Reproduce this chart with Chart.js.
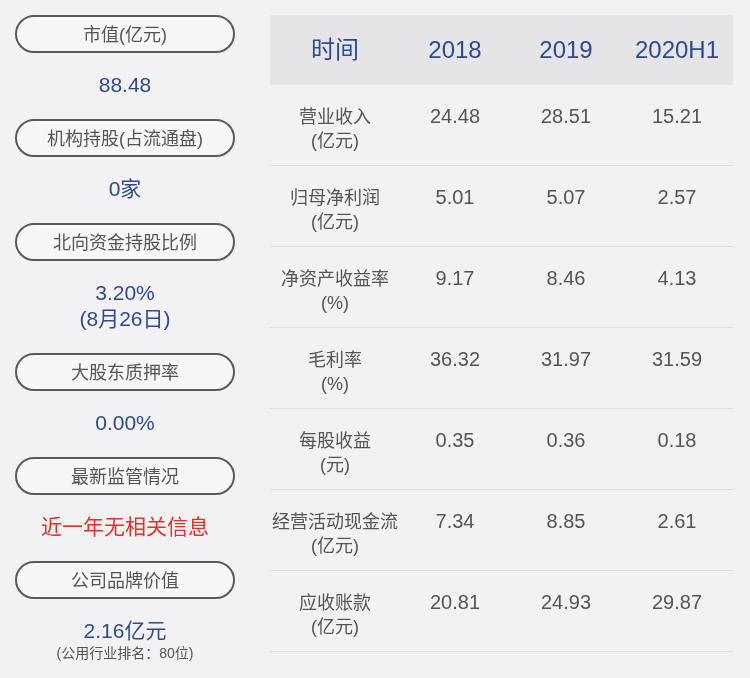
<!DOCTYPE html>
<html><head><meta charset="utf-8">
<script src="https://cdn.jsdelivr.net/npm/chart.js@4/dist/chart.umd.min.js"></script>
<style>html,body{margin:0;padding:0;background:#f2f2f4;}#wrap{width:750px;height:678px;}</style>
</head><body><div id="wrap"><canvas id="c" width="750" height="678"></canvas></div>
<script>
const leftLabels=["市值(亿元)","机构持股(占流通盘)","北向资金持股比例","大股东质押率","最新监管情况","公司品牌价值"];
const leftValues=[["88.48"],["0家"],["3.20%","(8月26日)"],["0.00%"],["近一年无相关信息"],["2.16亿元"]];
const brandNote="(公用行业排名：80位)";
const headers=["时间","2018","2019","2020H1"];
const rowLabels=[["营业收入","(亿元)"],["归母净利润","(亿元)"],["净资产收益率","(%)"],["毛利率","(%)"],["每股收益","(元)"],["经营活动现金流","(亿元)"],["应收账款","(亿元)"]];
const v2018=["24.48","5.01","9.17","36.32","0.35","7.34","20.81"];
const v2019=["28.51","5.07","8.46","31.97","0.36","8.85","24.93"];
const v2020=["15.21","2.57","4.13","31.59","0.18","2.61","29.87"];
const F='"Liberation Sans","DejaVu Sans","Noto Sans CJK SC",sans-serif';
const BLUE='#2f4a8c',GRAY='#555555',RED='#e03228';
function rr(ctx,x,y,w,h,r){ctx.beginPath();ctx.moveTo(x+r,y);ctx.arcTo(x+w,y,x+w,y+h,r);ctx.arcTo(x+w,y+h,x,y+h,r);ctx.arcTo(x,y+h,x,y,r);ctx.arcTo(x,y,x+w,y,r);ctx.closePath();}
const tablePlugin={id:'tbl',afterDraw(chart){
 const ctx=chart.ctx;ctx.save();
 ctx.fillStyle='#f2f2f4';ctx.fillRect(0,0,750,678);
 ctx.textAlign='center';ctx.textBaseline='middle';
 const pillY=[34,138,242,372,476,580];
 leftLabels.forEach((l,i)=>{
  const cy=pillY[i];rr(ctx,16,cy-18,218,36,18);ctx.fillStyle='#f7f7f8';ctx.fill();
  ctx.lineWidth=2;ctx.strokeStyle='#5a5a5a';ctx.stroke();
  ctx.fillStyle=GRAY;ctx.font='18px '+F;ctx.fillText(l,125,cy+2);
  const vals=leftValues[i];
  vals.forEach((v,j)=>{ctx.fillStyle=i===4?RED:BLUE;ctx.font='21px '+F;ctx.fillText(v,125,cy+52+j*26);});
 });
 ctx.fillStyle=GRAY;ctx.font='14px '+F;ctx.fillText(brandNote,125,654);
 const cols=[335,455,566,677];
 ctx.fillStyle='#e5e5e8';ctx.fillRect(270,15,463,70);
 headers.forEach((h,i)=>{ctx.fillStyle=BLUE;ctx.font='24px '+F;ctx.fillText(h,cols[i],51);});
 rowLabels.forEach((lab,r)=>{
  const top=85+r*81;
  ctx.fillStyle=GRAY;ctx.font='18px '+F;
  ctx.fillText(lab[0],cols[0],top+33);ctx.fillText(lab[1],cols[0],top+57);
  [v2018,v2019,v2020].forEach((arr,k)=>{ctx.fillStyle=GRAY;ctx.font='20px '+F;ctx.fillText(arr[r],cols[k+1],top+32);});
  ctx.fillStyle='#e0e0e3';ctx.fillRect(270,top+80,463,1);
 });
 ctx.restore();
}};
new Chart(document.getElementById('c'),{type:'bar',data:{labels:[],datasets:[]},
 options:{responsive:false,animation:false,plugins:{legend:{display:false},tooltip:{enabled:false}},
 scales:{x:{display:false},y:{display:false}}},plugins:[tablePlugin]});
</script></body></html>
